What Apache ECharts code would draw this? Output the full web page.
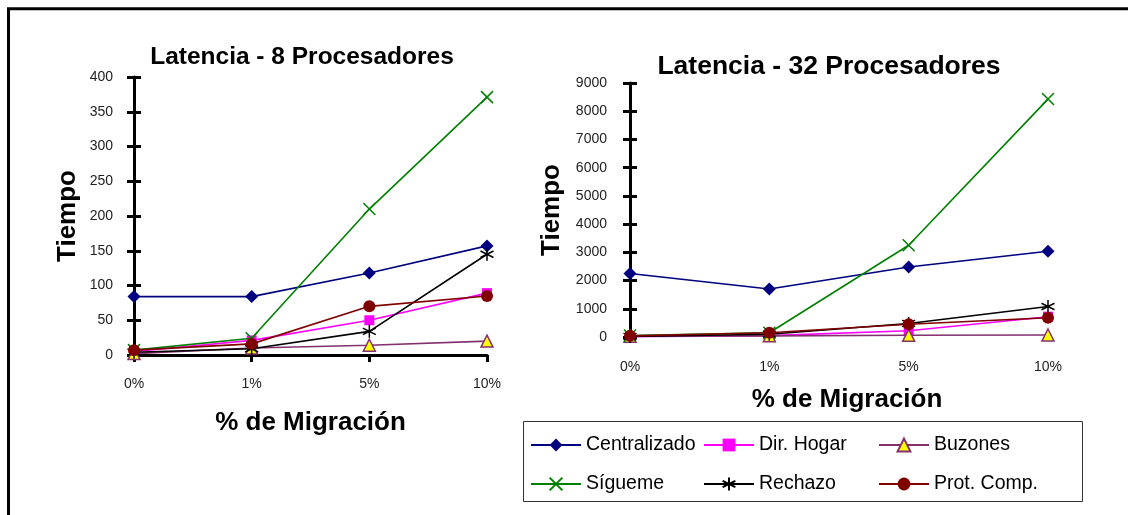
<!DOCTYPE html>
<html>
<head>
<meta charset="utf-8">
<script src="https://cdn.jsdelivr.net/npm/echarts@6/dist/echarts.min.js"></script>
<style>
  html, body { margin: 0; padding: 0; background: #fff; }
  #chart { width: 1128px; height: 515px; }
</style>
</head>
<body>
<div id="chart"></div>
<script>
// Migration percentages on the category axis
const categories = ['0%', '1%', '5%', '10%'];

// Latency with 8 processors
const centralizado8 = [84, 84, 118, 157];
const dirHogar8     = [5, 21, 50, 89];
const buzones8      = [2, 10, 14, 20];
const sigueme8      = [7, 24, 210, 371];
const rechazo8      = [4, 9, 34, 145];
const protComp8     = [7, 16, 70, 85];

// Latency with 32 processors
const centralizado32 = [2250, 1700, 2480, 3040];
const dirHogar32     = [10, 50, 220, 720];
const buzones32      = [30, 40, 60, 70];
const sigueme32      = [50, 150, 3250, 8430];
const rechazo32      = [20, 100, 480, 1080];
const protComp32     = [40, 150, 450, 680];

// Value-axis ranges
const yRange8  = { min: 0, max: 400, step: 50 };
const yRange32 = { min: 0, max: 9000, step: 1000 };

const seriesNames = ['Centralizado', 'Dir. Hogar', 'Buzones', 'Sígueme', 'Rechazo', 'Prot. Comp.'];
const data8  = [centralizado8, dirHogar8, buzones8, sigueme8, rechazo8, protComp8];
const data32 = [centralizado32, dirHogar32, buzones32, sigueme32, rechazo32, protComp32];

const X_PATH = 'path://M0,0L10,10M10,0L0,10';
const STAR_PATH = 'path://M5,0L5,10M0.67,2.5L9.33,7.5M0.67,7.5L9.33,2.5';

const styles = {
  'Centralizado': { line: '#000080', symbol: 'diamond', size: 13, fill: '#000080', border: '#000080', bw: 0 },
  'Dir. Hogar':   { line: '#FF00FF', symbol: 'rect', size: 10, fill: '#FF00FF', border: '#FF00FF', bw: 0 },
  'Buzones':      { line: '#84306f', symbol: 'triangle', size: 12, fill: '#FFFF00', border: '#84306f', bw: 1.5 },
  'Sígueme':      { line: '#008000', symbol: X_PATH, size: 12, fill: '#008000', border: '#008000', bw: 1.5 },
  'Rechazo':      { line: '#000000', symbol: STAR_PATH, size: 13, fill: '#000000', border: '#000000', bw: 1.5 },
  'Prot. Comp.':  { line: '#800000', symbol: 'circle', size: 12, fill: '#800000', border: '#800000', bw: 0 }
};

const LABEL_FONT = '"Liberation Sans", Arial, sans-serif';
const BOLD_FONT = '"Liberation Sans", Arial, sans-serif';

function buildSeries(names, values, xi, yi) {
  return names.map((name, i) => {
    const s = styles[name];
    return {
      name: name,
      type: 'line',
      xAxisIndex: xi,
      yAxisIndex: yi,
      data: values[i],
      symbol: s.symbol,
      symbolSize: s.size,
      showAllSymbol: true,
      lineStyle: { color: s.line, width: 1.6 },
      itemStyle: { color: s.fill, borderColor: s.border, borderWidth: s.bw, opacity: 1 },
      emphasis: { disabled: true },
      z: 3 + i
    };
  });
}

function valueAxis(grid, range, labelMargin, nameGap) {
  return {
    type: 'value', gridIndex: grid,
    min: range.min, max: range.max, interval: range.step,
    name: 'Tiempo', nameLocation: 'middle', nameGap: nameGap, nameRotate: 90,
    nameMoveOverlap: false,
    nameTextStyle: { fontFamily: BOLD_FONT, fontWeight: 'bold', fontSize: 26, color: '#000' },
    axisLine: { show: true, lineStyle: { color: '#000', width: 3 } },
    axisTick: { show: true, length: 7, lineStyle: { color: '#000', width: 3 } },
    axisLabel: { margin: labelMargin, fontFamily: LABEL_FONT, fontSize: 14, color: '#222',
      formatter: v => String(v) },
    splitLine: { show: false }
  };
}

function innerTickAxis(grid, range) {
  return {
    type: 'value', gridIndex: grid, position: 'left', offset: 0,
    min: range.min, max: range.max, interval: range.step,
    axisLine: { show: false },
    axisTick: { show: true, inside: true, length: 7, lineStyle: { color: '#000', width: 3 } },
    axisLabel: { show: false },
    splitLine: { show: false }
  };
}

function categoryAxis(grid, showLine, labelMargin, nameGap, nameShift) {
  return {
    type: 'category', gridIndex: grid, data: categories, boundaryGap: false,
    name: '% de Migración', nameLocation: 'middle', nameGap: nameGap,
    nameMoveOverlap: false,
    nameTextStyle: { fontFamily: BOLD_FONT, fontWeight: 'bold', fontSize: 26, color: '#000',
      verticalAlign: 'top', padding: [0, 0, 0, nameShift] },
    axisLine: { show: showLine, lineStyle: { color: '#000', width: 3 } },
    axisTick: { show: showLine, length: 7, lineStyle: { color: '#000', width: 3 } },
    axisLabel: { margin: labelMargin, fontFamily: LABEL_FONT, fontSize: 14, color: '#222' },
    splitLine: { show: false }
  };
}

const legendLayout = [
  { name: 'Centralizado', left: 530, top: 435 },
  { name: 'Dir. Hogar',   left: 703, top: 435 },
  { name: 'Buzones',      left: 878, top: 435 },
  { name: 'Sígueme',      left: 530, top: 474 },
  { name: 'Rechazo',      left: 703, top: 474 },
  { name: 'Prot. Comp.',  left: 878, top: 474 }
];

const chart = echarts.init(document.getElementById('chart'), null, { renderer: 'canvas' });

chart.setOption({
  animation: false,
  backgroundColor: '#fff',
  title: [
    { text: 'Latencia - 8 Procesadores', left: 297, top: 40, textAlign: 'center',
      textStyle: { fontFamily: BOLD_FONT, fontWeight: 'bold', fontSize: 24.5, color: '#000' } },
    { text: 'Latencia - 32 Procesadores', left: 824, top: 48, textAlign: 'center',
      textStyle: { fontFamily: BOLD_FONT, fontWeight: 'bold', fontSize: 26.5, color: '#000' } }
  ],
  grid: [
    { left: 134, right: 641, top: 77, bottom: 160, containLabel: false },
    { left: 630, right: 80, top: 83, bottom: 178, containLabel: false }
  ],
  xAxis: [
    categoryAxis(0, true, 22, 55, 0),
    categoryAxis(1, false, 23, 50, 16)
  ],
  yAxis: [
    valueAxis(0, yRange8, 21, 53),
    innerTickAxis(0, yRange8),
    valueAxis(1, yRange32, 23, 65),
    innerTickAxis(1, yRange32)
  ],
  legend: legendLayout.map(item => ({
    data: [item.name],
    left: item.left, top: item.top,
    padding: 0,
    itemWidth: 50, itemHeight: 16, itemGap: 0,
    selectedMode: false,
    textStyle: { fontFamily: BOLD_FONT, fontSize: 19.5, color: '#000' }
  })),
  graphic: [
    { type: 'rect', shape: { x: 8.5, y: 8.8, width: 1140, height: 520 },
      style: { fill: 'none', stroke: '#000', lineWidth: 3 }, silent: true, z: 100 },
    { type: 'rect', shape: { x: 523.5, y: 421.5, width: 559, height: 80 },
      style: { fill: 'none', stroke: '#333', lineWidth: 1 }, silent: true, z: 100 }
  ],
  series: [
    ...buildSeries(seriesNames, data8, 0, 0),
    ...buildSeries(seriesNames, data32, 1, 2)
  ]
});
</script>
</body>
</html>
